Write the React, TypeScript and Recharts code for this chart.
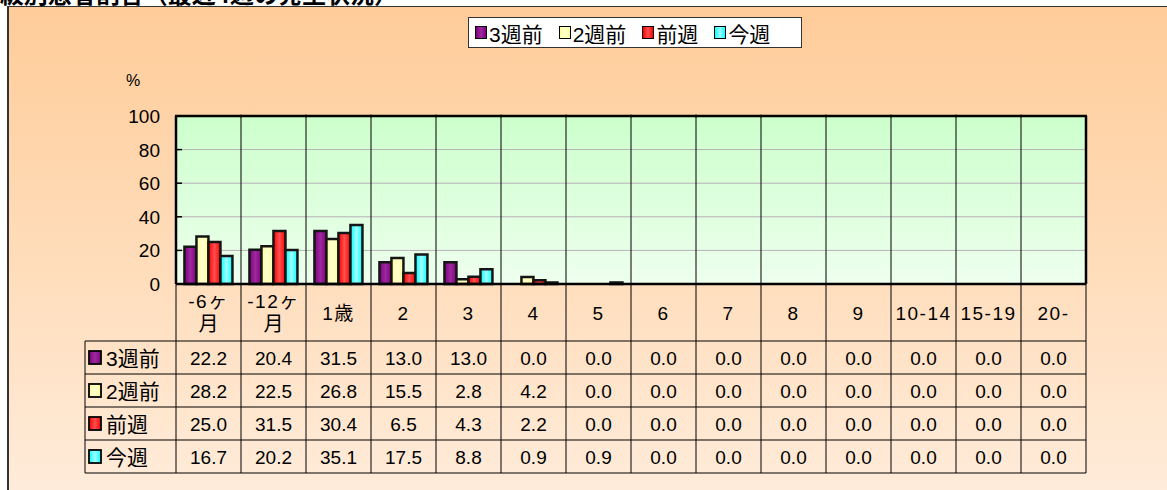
import React from "react";
import { Bar, BarChart, CartesianGrid, XAxis, YAxis } from "recharts";

// age groups (line break = wrapped label in the table header)
const categories = ["-6ヶ\n月", "-12ヶ\n月", "1歳", "2", "3", "4", "5", "6", "7", "8", "9", "10-14", "15-19", "20-"];
const seriesNames = ["3週前", "2週前", "前週", "今週"];
const week3 = [22.2, 20.4, 31.5, 13.0, 13.0, 0.0, 0.0, 0.0, 0.0, 0.0, 0.0, 0.0, 0.0, 0.0];
const week2 = [28.2, 22.5, 26.8, 15.5, 2.8, 4.2, 0.0, 0.0, 0.0, 0.0, 0.0, 0.0, 0.0, 0.0];
const lastWeek = [25.0, 31.5, 30.4, 6.5, 4.3, 2.2, 0.0, 0.0, 0.0, 0.0, 0.0, 0.0, 0.0, 0.0];
const thisWeek = [16.7, 20.2, 35.1, 17.5, 8.8, 0.9, 0.9, 0.0, 0.0, 0.0, 0.0, 0.0, 0.0, 0.0];
const yTicks = [0, 20, 40, 60, 80, 100];

const seriesValues = [week3, week2, lastWeek, thisWeek];
const colors = ["#800080", "#FFFF99", "#FF0000", "#00FFFF"];
const lights = ["#9c2a9c", "#FFFFD0", "#FF5050", "#A0FFFF"];

const data = categories.map((name, i) => ({
  name,
  s0: week3[i],
  s1: week2[i],
  s2: lastWeek[i],
  s3: thisWeek[i],
}));

const FONT = "'Liberation Sans', 'Noto Sans CJK JP', sans-serif";
const W = 1167;
const H = 490;
const BAND = 65;
const PLOT_H = 168;
const HEAD_H = 57;
const ROW_H = 33;
const KEY_LEFT = 85;

function YTick({ x, y, payload }: any) {
  return (
    <g>
      <line x1={x} x2={x + 6} y1={y} y2={y} stroke="#000" strokeWidth={1.5} />
      <text x={x - 16} y={y + 7} textAnchor="end" fontSize={19} fill="#000" fontFamily={FONT}>
        {payload.value}
      </text>
    </g>
  );
}

function Key({ x, y, i }: { x: number; y: number; i: number }) {
  return <rect x={x} y={y} width={12} height={13} fill={`url(#bar${i})`} stroke="#000" strokeWidth={1.8} />;
}

function TableTick({ x, y, payload }: any) {
  const i: number = payload.index ?? categories.indexOf(payload.value);
  const left = x - BAND / 2;
  const right = x + BAND / 2;
  const lines = String(payload.value).split("\n");
  const rowTop = (r: number) => y + HEAD_H + r * ROW_H;
  const last = i === categories.length - 1;
  return (
    <g fontFamily={FONT} fill="#000">
      {i > 0 && <line x1={left} x2={left} y1={y - PLOT_H} y2={y} stroke="#000" strokeWidth={1} />}
      <line x1={left} x2={left} y1={y} y2={rowTop(4)} stroke="#000" strokeWidth={1} />
      <line x1={left - 1} x2={right + 1} y1={y - PLOT_H} y2={y - PLOT_H} stroke="#000" strokeWidth={2.5} />
      {last && <line x1={right} x2={right} y1={y - PLOT_H} y2={y} stroke="#000" strokeWidth={2.5} />}
      {last && <line x1={right} x2={right} y1={y} y2={rowTop(4)} stroke="#000" strokeWidth={1} />}
      {[0, 1, 2, 3, 4].map((r) => (
        <line key={r} x1={left} x2={right} y1={rowTop(r)} y2={rowTop(r)} stroke="#000" strokeWidth={1} />
      ))}
      {lines.length === 1 ? (
        <text x={x} y={y + HEAD_H / 2 + 7} textAnchor="middle" fontSize={19} letterSpacing={1.5}>
          {lines[0]}
        </text>
      ) : (
        <>
          <text x={x} y={y + 23.5} textAnchor="middle" fontSize={19} letterSpacing={1.5}>
            {lines[0]}
          </text>
          <text x={x} y={y + 46.5} textAnchor="middle" fontSize={20}>
            {lines[1]}
          </text>
        </>
      )}
      {seriesValues.map((vals, r) => (
        <text key={r} x={x} y={rowTop(r) + ROW_H / 2 + 7} textAnchor="middle" fontSize={19}>
          {vals[i].toFixed(1)}
        </text>
      ))}
      {i === 0 && (
        <g>
          <line x1={KEY_LEFT} x2={KEY_LEFT} y1={rowTop(0)} y2={rowTop(4)} stroke="#000" strokeWidth={1} />
          {[0, 1, 2, 3, 4].map((r) => (
            <line key={r} x1={KEY_LEFT} x2={left} y1={rowTop(r)} y2={rowTop(r)} stroke="#000" strokeWidth={1} />
          ))}
          {seriesNames.map((n, r) => (
            <g key={n}>
              <Key x={KEY_LEFT + 4} y={rowTop(r) + ROW_H / 2 - 6.5} i={r} />
              <text x={KEY_LEFT + 21} y={rowTop(r) + ROW_H / 2 + 8} fontSize={21}>
                {n}
              </text>
            </g>
          ))}
        </g>
      )}
    </g>
  );
}

export default function App() {
  return (
    <div style={{ position: "absolute", left: 0, top: 0, width: W, height: H, overflow: "hidden", background: "#fff", fontFamily: FONT }}>
      <div
        style={{
          position: "absolute",
          left: 7,
          top: 6,
          width: 1200,
          height: 520,
          borderLeft: "2px solid #333",
          borderTop: "1.5px solid #333",
          background: "linear-gradient(to bottom, #FFCC99 0%, #FFDDBB 50%, #FFEEDF 100%)",
        }}
      />
      <svg width={W} height={30} style={{ position: "absolute", left: 0, top: 0 }}>
        <text x={398} y={3} textAnchor="end" fontSize={24} fontWeight="bold" fontFamily="'Noto Sans CJK JP', sans-serif" fill="#000">
          年齢階級別患者割合（最近4週の発生状況）
        </text>
      </svg>
      <div style={{ position: "absolute", left: 126, top: 72, fontSize: 16, color: "#000" }}>%</div>
      <div
        style={{
          position: "absolute",
          left: 468,
          top: 17,
          width: 326,
          height: 29,
          background: "#fff",
          border: "1px solid #333",
          display: "flex",
          alignItems: "center",
          paddingLeft: 6,
          fontSize: 21,
          color: "#000",
          whiteSpace: "nowrap",
        }}
      >
        {seriesNames.map((n, i) => (
          <div key={n} style={{ display: "flex", alignItems: "center", marginRight: i === 3 ? 0 : 16 }}>
            <span
              style={{
                display: "inline-block",
                width: 10,
                height: 11,
                border: "1.8px solid #000",
                background: `linear-gradient(to right, ${colors[i]}, ${lights[i]}, ${colors[i]})`,
                marginRight: 2,
              }}
            />
            <span>{n}</span>
          </div>
        ))}
      </div>
      <div style={{ position: "absolute", left: 0, top: 0 }}>
        <BarChart
          width={W}
          height={H}
          data={data}
          margin={{ top: 116, right: W - 1086, left: 116, bottom: 16 }}
          barCategoryGap="13%"
          barGap={0}
        >
          <defs>
            <linearGradient id="plotBg" x1="0" y1="0" x2="0" y2="1">
              <stop offset="0%" stopColor="#CCFFCC" />
              <stop offset="100%" stopColor="#EEFFEE" />
            </linearGradient>
            {colors.map((c, i) => (
              <linearGradient key={c} id={`bar${i}`} x1="0" y1="0" x2="1" y2="0">
                <stop offset="0%" stopColor={c} />
                <stop offset="50%" stopColor={lights[i]} />
                <stop offset="100%" stopColor={c} />
              </linearGradient>
            ))}
          </defs>
          <CartesianGrid vertical={false} stroke="#b8b0b8" strokeWidth={1} fill="url(#plotBg)" fillOpacity={1} />
          <XAxis
            dataKey="name"
            interval={0}
            height={190}
            tickSize={0}
            tickMargin={0}
            tickLine={false}
            axisLine={{ stroke: "#000", strokeWidth: 2.5 }}
            tick={<TableTick />}
          />
          <YAxis
            domain={[0, 100]}
            ticks={yTicks}
            width={60}
            tickSize={0}
            tickMargin={0}
            tickLine={false}
            axisLine={{ stroke: "#000", strokeWidth: 2.5 }}
            tick={<YTick />}
            interval={0}
          />
          {seriesNames.map((n, i) => (
            <Bar key={n} dataKey={`s${i}`} name={n} fill={`url(#bar${i})`} stroke="#151515" strokeWidth={2.5} isAnimationActive={false} />
          ))}
        </BarChart>
      </div>
    </div>
  );
}
